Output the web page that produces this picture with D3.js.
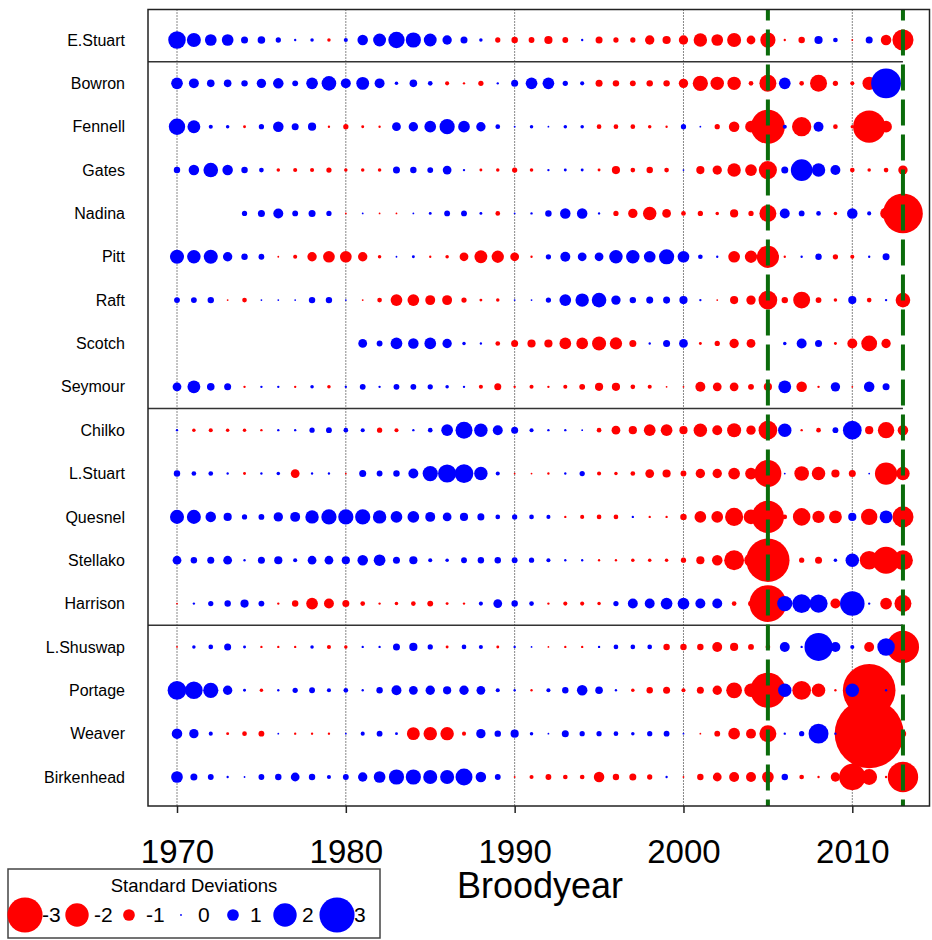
<!DOCTYPE html>
<html>
<head>
<meta charset="utf-8">
<script src="https://cdn.jsdelivr.net/npm/d3@7"></script>
<style>
body { margin: 0; background: #fff; }
svg { font-family: "Liberation Sans", Arial, sans-serif; }
</style>
</head>
<body>
<div class="chart"></div>
<script>
// brood years 1970..2013, one value (standard deviations) per year, null = no data
const years = d3.range(1970, 2014);
const tickYears = [1970, 1980, 1990, 2000, 2010];
const markYears = [2005, 2013];
const stocks = ["E.Stuart", "Bowron", "Fennell", "Gates", "Nadina", "Pitt", "Raft", "Scotch", "Seymour",
  "Chilko", "L.Stuart", "Quesnel", "Stellako", "Harrison", "L.Shuswap", "Portage", "Weaver", "Birkenhead"];
const groupEnds = ["E.Stuart", "Seymour", "Harrison"];
const legendValues = [-3, -2, -1, 0, 1, 2, 3];

const eStuart = [1.5, 1.2, 1.0, 1.0, 0.6, 0.65, 0.45, 0.2, 0.3, -0.3,
  0.35, 0.9, 1.1, 1.4, 1.3, 1.1, 0.8, 0.6, 0.3, -0.45,
  -0.55, -0.5, -0.7, -0.5, 0.2, -0.6, -0.45, -0.45, -0.8, -0.7,
  -0.8, -1.15, -1.0, -1.2, -0.75, -1.3, -0.2, -0.55, 0.7, 0.4,
  -0.15, 0.6, -0.9, -1.8];
const bowron = [1.0, 0.85, 0.65, 0.65, 0.55, 0.8, 0.9, 0.5, 1.0, 1.25,
  0.85, 1.1, 0.85, 0.3, 0.65, 0.4, -0.35, -0.2, -0.45, 0.2,
  0.6, 1.0, 1.0, 0.45, 0.35, -0.6, -0.55, -0.5, -0.55, -0.55,
  -0.8, -1.3, -1.15, -1.15, -0.4, -1.45, 1.0, -0.4, -1.45, -0.45,
  -0.35, -1.15, 2.55, null];
const fennell = [1.4, 1.1, 0.35, 0.3, -0.25, 0.45, 0.9, 0.6, 0.7, -0.2,
  -0.45, -0.25, -0.2, 0.75, 0.8, 1.0, 1.3, 1.0, 0.8, 0.4,
  0.15, 0.3, 0.15, 0.3, 0.3, -0.4, -0.4, -0.4, -0.3, -0.2,
  0.45, 0.15, -0.45, -0.9, -1.0, -2.9, 0.35, -1.65, 0.85, -0.4,
  -0.3, -2.75, -1.0, null];
const gates = [0.55, 0.9, 1.25, 0.9, 0.55, 0.4, -0.3, -0.35, -0.35, -0.45,
  -0.3, -0.3, -0.3, 0.6, 0.55, 0.5, 0.75, 0.2, -0.25, -0.3,
  -0.45, -0.3, 0.2, 0.25, 0.25, -0.25, -0.7, -0.4, -0.55, -0.4,
  0.15, -0.7, -0.8, -1.15, -1.0, -1.55, 0.6, 1.85, 1.15, 0.85,
  -0.4, -0.3, -0.4, -0.8];
const nadina = [null, null, null, null, 0.45, 0.6, 0.85, 0.5, 0.6, 0.45,
  -0.15, 0.15, -0.15, -0.15, 0.15, 0.25, 0.5, 0.5, 0.25, -0.4,
  0.15, 0.2, 0.55, 0.9, 0.9, 0.2, -0.45, -0.8, -1.15, -0.75,
  -0.4, -0.45, -0.3, -0.7, -0.45, -1.45, 0.85, 0.5, 0.4, -0.3,
  0.9, 0.35, -1.0, -3.4];
const pitt = [1.2, 1.15, 1.2, 0.8, 0.55, 0.5, -0.15, -0.35, -0.8, -1.0,
  -1.0, -0.8, -0.3, 0.15, 0.25, -0.2, -0.3, -0.75, -1.1, -1.05,
  -0.75, -0.2, 0.45, 0.85, 0.75, 0.75, 1.15, 1.15, 1.0, 1.3,
  1.0, 0.4, 0.2, -1.0, -1.05, -1.9, -0.2, 0.2, 0.55, -0.45,
  -0.35, 0.2, 0.6, null];
const raft = [0.5, 0.5, 0.55, -0.15, -0.4, 0.15, 0.15, 0.15, 0.55, 0.55,
  0.15, -0.15, -0.4, -1.0, -1.0, -0.85, -0.85, -0.45, -0.25, -0.3,
  0.15, 0.15, 0.45, 1.0, 1.15, 1.25, 0.8, 0.55, 0.6, 0.6,
  0.7, 0.2, -0.15, -0.7, -0.8, -1.6, -0.55, -1.45, -0.5, -0.3,
  0.7, -0.4, 0.2, -1.25];
const scotch = [null, null, null, null, null, null, null, null, null, null,
  null, 0.75, 0.5, 1.0, 0.9, 1.0, 0.8, 0.3, 0.2, -0.4,
  -0.6, -0.7, -0.7, -1.0, -1.0, -1.2, -1.05, -0.6, 0.2, 0.6,
  0.75, -0.25, -0.45, -0.8, -0.75, null, 0.3, 0.85, 0.6, -0.25,
  -0.85, -1.35, -0.8, null];
const seymour = [0.75, 1.1, 0.65, 0.6, -0.2, 0.2, 0.2, -0.2, 0.3, -0.3,
  0.2, 0.5, 0.2, 0.5, 0.5, 0.45, 0.3, 0.2, -0.35, -0.6,
  -0.2, -0.35, -0.2, -0.35, -0.5, -0.7, -0.7, -0.4, -0.35, -0.15,
  -0.15, -0.85, -0.75, -0.75, -0.5, -0.7, 1.1, -0.9, -0.2, 0.8,
  -0.15, 0.9, 0.6, null];
const chilko = [0.2, -0.3, -0.35, -0.3, -0.3, -0.2, 0.2, 0.2, 0.45, 0.5,
  0.4, 0.35, -0.45, -0.35, 0.2, 0.4, 1.0, 1.45, 1.15, 0.85,
  0.6, 0.35, 0.2, 0.2, 0.15, -0.4, -0.75, -0.7, -1.0, -1.0,
  -0.7, -1.15, -0.85, -1.2, -0.8, -1.6, 1.15, -0.2, -0.4, 0.5,
  1.6, -0.7, -1.4, -0.9];
const lStuart = [0.55, 0.4, 0.4, 0.2, -0.25, 0.2, 0.3, -0.75, 0.2, 0.2,
  -0.15, 0.6, 0.5, 0.55, 0.85, 1.3, 1.55, 1.6, 1.15, 0.35,
  -0.15, -0.15, -0.2, 0.2, 0.45, -0.35, -0.3, -0.4, -0.75, -0.7,
  -0.5, -0.8, -0.8, -1.0, -1.0, -2.3, 0.15, -1.25, -1.15, -0.7,
  -0.6, 0.15, -1.9, -1.15];
const quesnel = [1.2, 1.2, 0.9, 0.7, 0.45, 0.5, 0.8, 0.85, 1.15, 1.3,
  1.3, 1.3, 1.15, 1.0, 1.0, 0.85, 0.75, 0.7, 0.6, 0.4,
  0.45, 0.4, 0.35, -0.2, -0.35, -0.4, -0.4, 0.2, -0.2, -0.2,
  -0.55, -1.0, -1.0, -1.55, -1.25, -2.75, -0.4, -1.5, -1.05, -1.1,
  0.7, -1.4, 1.1, -1.8];
const stellako = [0.75, 0.55, 0.6, 0.75, 0.2, 0.6, 0.7, 0.35, 0.75, 0.75,
  0.7, 0.9, 1.0, 0.6, 0.7, 0.35, 0.3, 0.5, 0.55, 0.55,
  0.5, 0.45, 0.35, 0.2, 0.2, -0.2, -0.2, -0.3, -0.3, -0.3,
  -0.45, -0.7, -0.9, -1.7, -1.15, -3.7, -0.3, -0.45, -0.6, 0.3,
  1.15, -1.6, -2.3, -1.7];
const harrison = [-0.15, 0.2, 0.45, 0.55, 0.7, 0.5, -0.2, -0.55, -1.0, -0.85,
  -0.6, -0.4, -0.2, -0.3, -0.4, -0.5, -0.25, -0.2, 0.35, 0.75,
  0.55, 0.4, -0.2, -0.35, -0.35, -0.3, 0.45, 0.85, 0.85, 1.0,
  1.0, 0.85, 0.85, -0.4, -0.5, -3.15, 1.3, 1.6, 1.55, -0.85,
  2.1, 0.2, -1.0, -1.45];
const lShuswap = [-0.15, 0.3, 0.4, 0.6, 0.25, -0.2, -0.2, -0.2, 0.3, -0.35,
  -0.3, 0.2, 0.2, 0.6, 0.7, 0.45, -0.25, 0.4, 0.35, -0.25,
  0.2, 0.15, -0.15, -0.2, -0.2, 0.2, 0.4, 0.4, 0.4, -0.55,
  -0.55, -0.55, -0.85, -0.7, -0.5, -0.4, 0.85, 0.2, 2.4, 0.85,
  0.35, -0.85, 1.5, -2.75];
const portage = [1.6, 1.5, 1.3, 0.8, 0.25, -0.3, 0.2, 0.45, 0.5, 0.35,
  0.4, 0.2, 0.55, 0.85, 0.75, 0.8, 0.7, 0.8, 0.75, 0.35,
  0.2, -0.2, 0.35, 0.55, 0.9, 0.65, 0.2, -0.3, -0.55, -0.6,
  -0.35, -0.6, -0.8, -1.35, -1.15, -3.0, 1.15, -1.6, -1.15, -0.2,
  1.15, -4.5, 0.2, null];
const weaver = [0.9, 0.8, 0.35, -0.25, -0.4, -0.5, 0.15, -0.2, -0.2, -0.2,
  0.15, 0.35, 0.5, 0.25, -1.1, -1.15, -1.15, -0.35, 0.8, 0.55,
  0.7, 0.3, 0.15, 0.6, 0.45, 0.45, 0.4, 0.3, 0.45, 0.5,
  0.15, -0.15, -0.5, -1.0, -0.85, -1.45, 0.2, 0.45, 1.7, 0.2,
  -0.5, -5.9, -0.5, -0.55];
const birkenhead = [1.0, 0.6, 0.5, 0.2, 0.15, 0.5, 0.55, 0.75, 0.55, 0.35,
  0.5, 0.8, 1.0, 1.3, 1.3, 1.2, 1.2, 1.45, 0.9, 0.5,
  -0.15, -0.35, -0.5, -0.4, -0.4, -0.9, -0.55, -0.6, -0.45, 0.2,
  -0.15, -0.55, -0.75, -0.85, -0.85, -1.0, 0.55, -0.4, -0.2, -0.8,
  -2.25, -1.35, -0.2, -2.6];

const series = [eStuart, bowron, fennell, gates, nadina, pitt, raft, scotch, seymour,
  chilko, lStuart, quesnel, stellako, harrison, lShuswap, portage, weaver, birkenhead];

const width = 932, height = 940;
const plot = {left: 148, right: 929.5, top: 9.5, bottom: 806};

const svg = d3.select(".chart").append("svg")
    .attr("width", width)
    .attr("height", height);

const x = d3.scaleLinear().domain([1970, 2010]).range([177, 852.3]);
const y = d3.scalePoint().domain(stocks).range([40, 777]);
const rScale = d3.scaleLinear().domain([0, 1]).range([0, 5.85]);
const radius = v => Math.max(0.9, rScale(Math.abs(v)));
const colour = v => v < 0 ? "#ff0000" : "#0000ff";

// decade grid
svg.append("g").selectAll("line")
  .data(tickYears)
  .join("line")
    .attr("x1", d => x(d)).attr("x2", d => x(d))
    .attr("y1", plot.top).attr("y2", plot.bottom)
    .attr("stroke", "#111")
    .attr("stroke-width", 1)
    .attr("stroke-dasharray", "1,2");

// group separators stop at the last brood year
svg.append("g").selectAll("line")
  .data(groupEnds)
  .join("line")
    .attr("x1", plot.left).attr("x2", x(2013))
    .attr("y1", d => y(d) + y.step() / 2)
    .attr("y2", d => y(d) + y.step() / 2)
    .attr("stroke", "#333")
    .attr("stroke-width", 1.5);

let dots = [];
stocks.forEach((s, i) => {
  series[i].forEach((v, j) => {
    if (v != null) dots.push({stock: s, year: years[j], v: v});
  });
});
// negatives underneath, positives on top
dots.sort((a, b) => (a.v < 0 ? 0 : 1) - (b.v < 0 ? 0 : 1));

svg.append("g").selectAll("circle")
  .data(dots)
  .join("circle")
    .attr("cx", d => x(d.year))
    .attr("cy", d => y(d.stock))
    .attr("r", d => radius(d.v))
    .attr("fill", d => colour(d.v));

svg.append("g").selectAll("line")
  .data(markYears)
  .join("line")
    .attr("x1", d => x(d)).attr("x2", d => x(d))
    .attr("y1", plot.top).attr("y2", plot.bottom)
    .attr("stroke", "#0b6b0b")
    .attr("stroke-width", 4)
    .attr("stroke-dasharray", "26,9")
    .attr("stroke-dashoffset", 15);

svg.append("rect")
  .attr("x", plot.left).attr("y", plot.top)
  .attr("width", plot.right - plot.left)
  .attr("height", plot.bottom - plot.top)
  .attr("fill", "none")
  .attr("stroke", "#222")
  .attr("stroke-width", 1.5);

const xAxis = svg.append("g")
  .attr("transform", `translate(0,${plot.bottom})`)
  .call(d3.axisBottom(x).tickValues(tickYears).tickFormat(d3.format("d")).tickSize(7).tickPadding(27));
xAxis.select(".domain").remove();
xAxis.selectAll("line").attr("stroke", "#222").attr("stroke-width", 1.5);
xAxis.selectAll("text").attr("font-size", 33).attr("fill", "#000")
  .attr("font-family", "Liberation Sans, Arial, sans-serif");

const yAxis = svg.append("g")
  .attr("transform", `translate(${plot.left},0)`)
  .call(d3.axisLeft(y).tickSize(0).tickPadding(23));
yAxis.select(".domain").remove();
yAxis.selectAll("text").attr("font-size", 16).attr("fill", "#000")
  .attr("font-family", "Liberation Sans, Arial, sans-serif");

svg.append("text")
  .attr("x", 540).attr("y", 898)
  .attr("text-anchor", "middle")
  .attr("font-size", 36)
  .text("Broodyear");

// legend
const legend = svg.append("g");
legend.append("rect")
  .attr("x", 8).attr("y", 869)
  .attr("width", 372).attr("height", 69)
  .attr("fill", "#fff")
  .attr("stroke", "#444")
  .attr("stroke-width", 1.5);
legend.append("text")
  .attr("x", 194).attr("y", 892)
  .attr("text-anchor", "middle")
  .attr("font-size", 18.5)
  .text("Standard Deviations");
const lx = d3.scaleLinear().domain([-3, 3]).range([25, 337]);
legend.selectAll("circle")
  .data(legendValues)
  .join("circle")
    .attr("cx", d => lx(d))
    .attr("cy", 915)
    .attr("r", d => radius(d))
    .attr("fill", d => colour(d));
legend.selectAll("text.lab")
  .data(legendValues)
  .join("text")
    .attr("class", "lab")
    .attr("x", d => lx(d) + 17)
    .attr("y", 922)
    .attr("font-size", 21)
    .text(d => d);
</script>
</body>
</html>
